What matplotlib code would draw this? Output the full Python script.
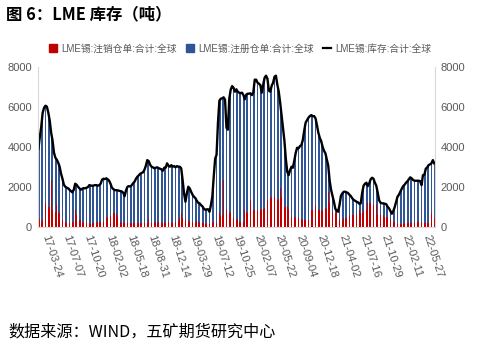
import matplotlib
matplotlib.use("Agg")
import matplotlib.pyplot as plt
from matplotlib.patches import Patch
from matplotlib.lines import Line2D
import numpy as np
import pandas as pd

# ---------------- data ----------------
weeks = pd.date_range("2017-01-27", periods=281, freq="7D")

total_stock = [
    3900, 4500, 5000, 5700, 5950, 6050, 6000, 5700, 5300, 4700,
    4300, 3700, 3450, 3350, 3200, 3000, 2650, 2400, 2100, 2000,
    1950, 1920, 1850, 1780, 1720, 1850, 2150, 2100, 2000, 1920,
    1850, 1900, 1930, 1920, 1950, 1980, 2080, 2060, 2050, 2060,
    2080, 2080, 2050, 2080, 2150, 2350, 2400, 2380, 2420, 2370,
    2300, 2150, 1950, 1880, 1830, 1830, 1820, 1800, 1780, 1760,
    1700, 1530, 1830, 2000, 2030, 2010, 2080, 2180, 2250, 2400,
    2500, 2570, 2650, 2690, 2720, 2850, 3050, 3330, 3280, 3100,
    3000, 2970, 2920, 2950, 2970, 2930, 2900, 2870, 2800, 2950,
    2950, 3170, 3050, 3000, 3080, 3000, 3030, 2970, 3030, 3000,
    3000, 2920, 2330, 1670, 1250, 1670, 2000, 1920, 1750, 1600,
    1500, 1430, 1300, 1200, 1170, 1080, 1020, 900, 850, 870,
    870, 750, 1080, 1500, 2500, 3400, 3600, 5200, 6300, 6400,
    6420, 6470, 6350, 4950, 4850, 6400, 6850, 7030, 6950, 6750,
    6870, 6750, 6700, 6680, 6700, 6580, 6370, 6600, 6650, 6650,
    6670, 6580, 6700, 7350, 7350, 7200, 7150, 7080, 6700, 7100,
    7450, 7550, 7400, 6800, 6750, 7050, 7200, 7500, 7550, 7100,
    6750, 6200, 5550, 4900, 4300, 3400, 2750, 2580, 2830, 3000,
    2950, 3300, 3700, 3950, 3920, 4030, 4080, 4330, 4800, 5200,
    5330, 5450, 5530, 5580, 5530, 5530, 5420, 5080, 4700, 4450,
    4280, 4000, 3800, 3670, 3350, 3050, 2300, 1850, 1550, 1250,
    900, 800, 750, 1100, 1550, 1670, 1750, 1750, 1720, 1680,
    1600, 1530, 1420, 1340, 1300, 1250, 1220, 1150, 1170, 1700,
    2050, 2150, 2200, 2030, 2170, 2370, 2450, 2400, 2200, 2050,
    1700, 1320, 1200, 1170, 1170, 1150, 1130, 1000, 920, 780,
    650, 780, 980, 1250, 1500, 1600, 1750, 1900, 2030, 2100,
    2200, 2270, 2370, 2470, 2420, 2340, 2300, 2300, 2300, 2300,
    2280, 2080, 2580, 2600, 2900, 2970, 3080, 3120, 3170, 3330,
    3170,
]

cancelled = [
    420, 400, 250, 330, 670, 1170, 1450, 1000, 1000, 2330,
    830, 670, 750, 1080, 700, 670, 420, 330, 250, 250,
    200, 220, 180, 200, 230, 200, 850, 580, 450, 330,
    330, 250, 200, 170, 170, 200, 170, 150, 170, 200,
    170, 200, 250, 250, 250, 280, 250, 300, 450, 500,
    500, 520, 560, 670, 700, 650, 500, 330, 250, 200,
    170, 170, 200, 170, 250, 200, 170, 170, 200, 330,
    200, 170, 170, 170, 200, 170, 200, 200, 370, 250,
    170, 200, 250, 170, 170, 250, 170, 200, 170, 250,
    200, 170, 250, 170, 170, 200, 170, 250, 200, 300,
    450, 670, 420, 400, 330, 250, 300, 250, 200, 250,
    250, 200, 300, 250, 200, 170, 200, 170, 130, 170,
    170, 150, 130, 170, 250, 170, 200, 250, 670, 550,
    600, 2330, 1000, 830, 700, 670, 750, 500, 450, 400,
    350, 400, 250, 250, 300, 250, 830, 750, 700, 750,
    1330, 1420, 830, 830, 800, 830, 900, 900, 850, 900,
    950, 1000, 1330, 1330, 1500, 1450, 2000, 1500, 1400, 1350,
    1400, 1920, 1500, 1500, 1000, 1000, 1050, 900, 700, 500,
    500, 450, 500, 420, 420, 420, 400, 330, 330, 330,
    300, 330, 350, 830, 850, 830, 1080, 830, 830, 830,
    800, 850, 1000, 920, 900, 1750, 1170, 1000, 750, 750,
    700, 750, 330, 330, 330, 300, 420, 420, 420, 420,
    580, 580, 580, 580, 580, 600, 830, 830, 670, 670,
    830, 830, 830, 1170, 1170, 1170, 1080, 1080, 1080, 1080,
    580, 580, 580, 580, 580, 500, 500, 500, 500, 400,
    250, 250, 250, 130, 130, 130, 130, 130, 130, 170,
    170, 170, 170, 170, 170, 170, 170, 170, 250, 250,
    250, 250, 420, 170, 170, 170, 170, 170, 670, 420,
    420,
]

tick_labels = ["17-03-24", "17-07-07", "17-10-20", "18-02-02", "18-05-18",
               "18-08-31", "18-12-14", "19-03-29", "19-07-12", "19-10-25",
               "20-02-07", "20-05-22", "20-09-04", "20-12-18", "21-04-02",
               "21-07-16", "21-10-29", "22-02-11", "22-05-27"]

y_ticks = [0, 2000, 4000, 6000, 8000]

series_names = ["LME锡:注销仓单:合计:全球", "LME锡:注册仓单:合计:全球", "LME锡:库存:合计:全球"]

# registered warrants = total stock - cancelled warrants
total_arr = np.array(total_stock, dtype=float)
canc_arr = np.array(cancelled, dtype=float)
registered = total_arr - canc_arr

# ---------------- style ----------------
plt.rcParams['font.family'] = ['Liberation Sans', 'Noto Sans CJK SC', 'DejaVu Sans']
RED = "#C00000"
BLUE = "#2F5597"
GREY_TXT = "#595959"
AX_GREY = "#D9D9D9"

fig = plt.figure(figsize=(4.97, 3.51), dpi=100)
ax = fig.add_axes([0.0759, 0.354, 0.7993, 0.456])

x = np.arange(len(weeks))
ax.bar(x, canc_arr, width=0.5, color=RED, linewidth=0)
ax.bar(x, registered, width=0.5, bottom=canc_arr, color=BLUE, linewidth=0)
ax.plot(x, total_arr, color="black", linewidth=1.7, solid_joinstyle="round")

ax.set_xlim(-0.5, len(weeks) - 0.5)
ax.set_ylim(0, 8000)
ax.set_yticks(y_ticks)
ax.set_yticklabels([str(v) for v in y_ticks], color=GREY_TXT, fontsize=8)

label_dates = [pd.Timestamp("20" + t) for t in tick_labels]
tick_pos = [int(np.where(weeks == d)[0][0]) for d in label_dates]
ax.set_xticks(tick_pos)
ax.set_xticklabels(tick_labels, rotation=-72, ha="left", va="top",
                   rotation_mode="anchor", color=GREY_TXT, fontsize=8)
ax.tick_params(axis="x", length=0, pad=5)
ax.tick_params(axis="y", length=0, pad=4)

ax.spines["top"].set_visible(False)
ax.spines["right"].set_visible(False)
ax.spines["left"].set_color(AX_GREY)
ax.spines["bottom"].set_color(AX_GREY)

ax2 = ax.twinx()
ax2.set_ylim(0, 8000)
ax2.set_yticks(y_ticks)
ax2.set_yticklabels([str(v) for v in y_ticks], color=GREY_TXT, fontsize=8)
ax2.tick_params(axis="y", length=0, pad=4)
for s in ["top", "left", "bottom"]:
    ax2.spines[s].set_visible(False)
ax2.spines["right"].set_color(AX_GREY)

handles = [Patch(facecolor=RED, edgecolor=RED),
           Patch(facecolor=BLUE, edgecolor=BLUE),
           Line2D([0], [0], color="black", linewidth=1.6)]
leg = fig.legend(handles, series_names, loc="center", bbox_to_anchor=(0.483, 0.862),
                 ncol=3, frameon=False, fontsize=7, handlelength=0.8, handleheight=0.8,
                 handletextpad=0.4, columnspacing=1.0, borderaxespad=0)
for t in leg.get_texts():
    t.set_color(GREY_TXT)

fig.text(0.012, 0.958, "图 6：LME 库存（吨）", fontsize=11.8, fontweight="bold",
         family=["Noto Sans CJK SC", "DejaVu Sans"], ha="left", va="center")
fig.text(0.016, 0.054, "数据来源：WIND，五矿期货研究中心", fontsize=11.6,
         family=["Noto Sans CJK SC", "DejaVu Sans"], ha="left", va="center")

fig.savefig("out.png", dpi=100)
